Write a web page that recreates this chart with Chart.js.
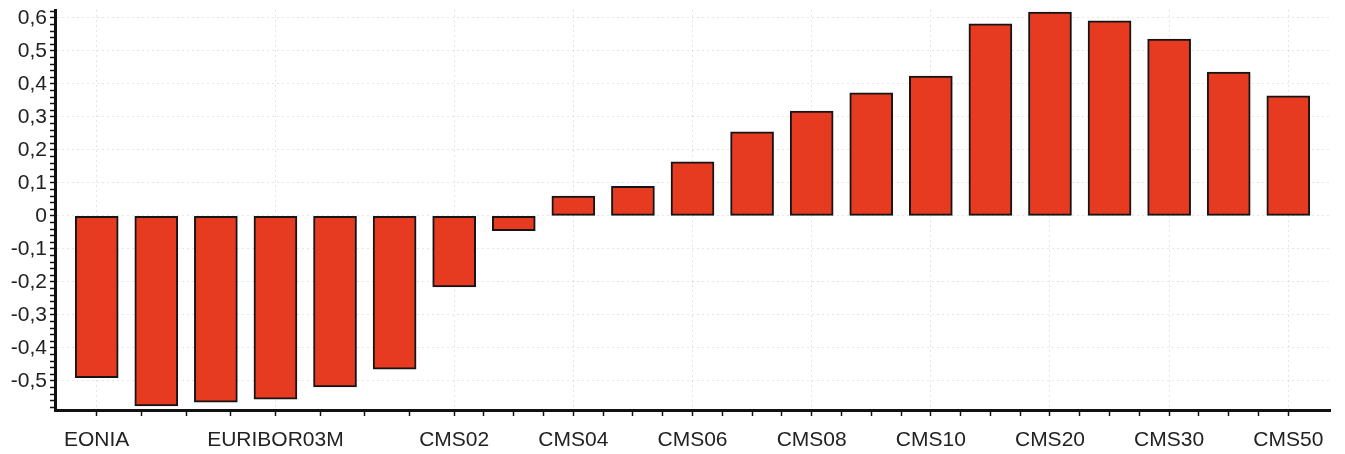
<!DOCTYPE html>
<html>
<head>
<meta charset="utf-8">
<script src="https://cdn.jsdelivr.net/npm/chart.js@4.4.1/dist/chart.umd.min.js"></script>
<style>
  html, body { margin: 0; padding: 0; background: #fff; }
  #wrap { width: 1345px; height: 454px; }
</style>
</head>
<body>
<div id="wrap"><canvas id="chart" width="1345" height="454"></canvas></div>
<script>
// categories (only some are labelled on the axis)
const categories = [
  "EONIA", "EURIBOR01M", "EURIBOR02M", "EURIBOR03M", "EURIBOR06M", "EURIBOR12M",
  "CMS02", "CMS03", "CMS04", "CMS05", "CMS06", "CMS07", "CMS08", "CMS09",
  "CMS10", "CMS15", "CMS20", "CMS25", "CMS30", "CMS40", "CMS50"
]
const values = [
  -0.49, -0.576, -0.564, -0.555, -0.518, -0.464,
  -0.215, -0.045, 0.06, 0.09, 0.164, 0.255, 0.318, 0.373,
  0.424, 0.582, 0.618, 0.591, 0.536, 0.436, 0.364
]
// labelled x ticks
const shownLabels = ["EONIA", "EURIBOR03M", "CMS02", "CMS04", "CMS06", "CMS08", "CMS10", "CMS20", "CMS30", "CMS50"]
// labelled y ticks
const yMajorTicks = [-0.5, -0.4, -0.3, -0.2, -0.1, 0, 0.1, 0.2, 0.3, 0.4, 0.5, 0.6]

const majorIdx = shownLabels.map(l => categories.indexOf(l))

// minor tick marks between the labelled ones
const xTicks = []
for (let k = 0; k < majorIdx.length; k++) {
  xTicks.push(majorIdx[k])
  if (k < majorIdx.length - 1) {
    const a = majorIdx[k], b = majorIdx[k + 1]
    for (let j = 1; j < 4; j++) xTicks.push(a + (b - a) * j / 4)
  }
}
const yTicks = []
for (let n = -29; n <= 31; n++) yTicks.push(Math.round(n * 2) / 100)

const isMajorY = v => yMajorTicks.some(t => Math.abs(t - v) < 1e-6)
const isMajorX = v => majorIdx.includes(v)

const font = { family: "'Liberation Sans', Arial, sans-serif", size: 21 }

new Chart(document.getElementById("chart").getContext("2d"), {
  type: "bar",
  data: {
    datasets: [{
      data: values.map((v, i) => ({ x: i, y: v })),
      backgroundColor: "#e63b21",
      borderColor: "#151515",
      borderWidth: 2,
      borderSkipped: false,
      barThickness: 43
    }]
  },
  options: {
    responsive: false,
    animation: false,
    layout: { padding: { top: 10, right: 15, left: 0, bottom: 0 } },
    plugins: { legend: { display: false }, tooltip: { enabled: false } },
    scales: {
      x: {
        type: "linear",
        offset: false,
        min: -0.7,
        max: 20.7,
        afterBuildTicks: s => { s.ticks = xTicks.map(v => ({ value: v })) },
        afterFit: s => { s.height = 44; s.paddingLeft = 0; s.paddingRight = 0 },
        ticks: {
          autoSkip: false,
          maxRotation: 0,
          padding: 12,
          color: "#222",
          font: font,
          callback: v => isMajorX(v) ? categories[v] : ""
        },
        grid: {
          offset: false,
          color: c => (c.tick && isMajorX(c.tick.value)) ? "rgba(0,0,0,0.10)" : "rgba(0,0,0,0)",
          tickColor: "#111",
          tickLength: 6,
          tickWidth: 1.5
        },
        border: { display: true, color: "#111", width: 3, dash: [2, 3] }
      },
      y: {
        min: -0.588,
        max: 0.624,
        afterBuildTicks: s => { s.ticks = yTicks.map(v => ({ value: v })) },
        afterFit: s => { s.width = 55; s.paddingTop = 0; s.paddingBottom = 0 },
        ticks: {
          autoSkip: false,
          padding: 3,
          color: "#222",
          font: font,
          callback: v => isMajorY(v) ? (Math.abs(v) < 1e-6 ? "0" : String(v).replace(".", ",")) : ""
        },
        grid: {
          color: c => (c.tick && isMajorY(c.tick.value)) ? "rgba(0,0,0,0.10)" : "rgba(0,0,0,0)",
          tickColor: "#111",
          tickLength: 5,
          tickWidth: 1.5
        },
        border: { display: true, color: "#111", width: 3, dash: [2, 3] }
      }
    }
  }
})
</script>
</body>
</html>
